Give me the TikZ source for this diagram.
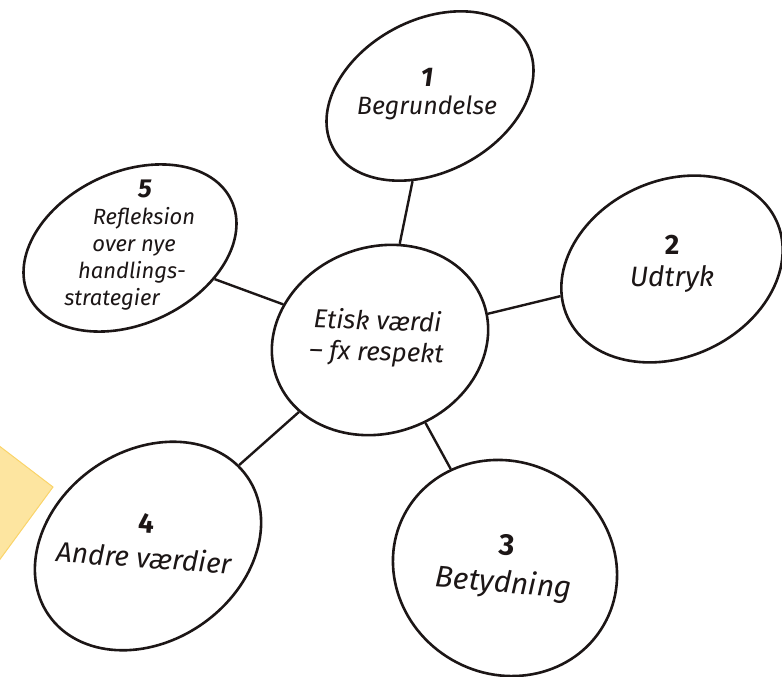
\documentclass[tikz,border=0pt]{standalone}
\usepackage{fontspec}
\setmainfont{Fira Sans}
\usetikzlibrary{shapes.geometric}
\definecolor{ink}{RGB}{28,22,22}
\definecolor{tagfill}{RGB}{253,229,160}
\definecolor{tagedge}{RGB}{250,212,105}
\newcommand{\fsz}[2]{\fontsize{#1}{#2}\selectfont}
\begin{document}
\begin{tikzpicture}[x=1pt,y=1pt,
  bubble/.style={ellipse,draw=ink,line width=2.6pt,inner sep=0pt,fill=white},
  link/.style={line width=2.4pt,draw=ink},
  lbl/.style={font=\itshape,align=center,inner sep=0pt,text=ink}]
\useasboundingbox (0,0) rectangle (782,-677);
% yellow tag at left
\filldraw[fill=tagfill,draw=tagedge,line width=1pt] (-2,-445) -- (53,-487) -- (-2,-562) -- cycle;
% bubbles
\node[bubble,minimum width=220pt,minimum height=186pt,rotate=20] (c) at (380,-340) {};
\node[bubble,minimum width=220pt,minimum height=152pt,rotate=28] (e1) at (430,-96) {};
\node[bubble,minimum width=230pt,minimum height=176pt,rotate=25] (e2) at (672,-269) {};
\node[bubble,minimum width=228pt,minimum height=212pt,rotate=-30] (e3) at (505,-568) {};
\node[bubble,minimum width=242pt,minimum height=190pt,rotate=35] (e4) at (148,-546) {};
\node[bubble,minimum width=224pt,minimum height=152pt,rotate=25] (e5) at (130,-248) {};
% connectors
\draw[link] (c) -- (e1);
\draw[link] (c) -- (e2);
\draw[link] (c) -- (e3);
\draw[link] (c) -- (e4);
\draw[link] (c) -- (e5);
% labels
\node[lbl,rotate=-2,font=\itshape\fsz{26}{31}] (tc) at (377,-338) {Etisk værdi\\– fx respekt};
\node[lbl,font=\itshape\fsz{25}{28}] (t1) at (427,-94) {{\bfseries\fsz{27}{28}1}\\Begrundelse};
\node[lbl,font=\itshape\fsz{28}{32}] (t2) at (672,-264) {{\bfseries\upshape 2}\\Udtryk};
\node[lbl,rotate=-5,font=\itshape\fsz{30}{37}] (t3) at (505,-567) {{\bfseries\upshape 3}\\Betydning};
\node[lbl,rotate=-4,font=\itshape\fsz{28}{35}] (t4) at (145,-541) {{\bfseries\upshape 4}\\Andre værdier};
\node[lbl,font=\itshape\fsz{22}{27}] (t5) at (132,-245)
  {\hspace*{26pt}{\bfseries\fsz{26}{27}5}\\\hspace*{24pt}Refleksion\\\hspace*{4pt}over nye\\handlings-\hspace*{18pt}\\strategier\hspace*{40pt}};
\end{tikzpicture}
\end{document}
